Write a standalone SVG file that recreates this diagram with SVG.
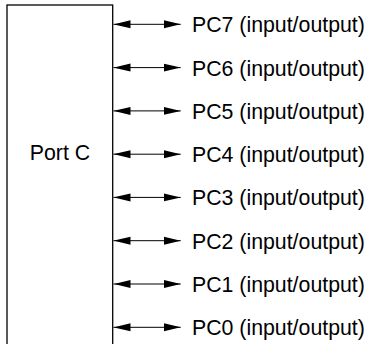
<svg xmlns="http://www.w3.org/2000/svg" width="369" height="344" viewBox="0 0 369 344">
<style>
.box{fill:#fff;stroke:#000;stroke-width:1.3}
.ln{stroke:#000;stroke-width:1}
.t{font-family:"Liberation Sans",Arial,sans-serif;font-size:21.3px;fill:#000}
</style>
<defs>
<marker id="ah" markerWidth="17" markerHeight="9" refX="17" refY="4.5" orient="auto-start-reverse" markerUnits="userSpaceOnUse">
<path d="M0,0.5 L17,4.5 L0,8.5 Z" fill="#000"/>
</marker>
</defs>
<g id="portC">
<rect class="box" x="7" y="5" width="105.7" height="350"/>
<text class="t" x="60" y="160" text-anchor="middle">Port C</text>
</g>
<g id="connectors">
<line class="ln" x1="113.5" y1="24.3" x2="180.7" y2="24.3" marker-start="url(#ah)" marker-end="url(#ah)"/>
<line class="ln" x1="113.5" y1="67.6" x2="180.7" y2="67.6" marker-start="url(#ah)" marker-end="url(#ah)"/>
<line class="ln" x1="113.5" y1="110.9" x2="180.7" y2="110.9" marker-start="url(#ah)" marker-end="url(#ah)"/>
<line class="ln" x1="113.5" y1="154.2" x2="180.7" y2="154.2" marker-start="url(#ah)" marker-end="url(#ah)"/>
<line class="ln" x1="113.5" y1="197.4" x2="180.7" y2="197.4" marker-start="url(#ah)" marker-end="url(#ah)"/>
<line class="ln" x1="113.5" y1="240.7" x2="180.7" y2="240.7" marker-start="url(#ah)" marker-end="url(#ah)"/>
<line class="ln" x1="113.5" y1="284" x2="180.7" y2="284" marker-start="url(#ah)" marker-end="url(#ah)"/>
<line class="ln" x1="113.5" y1="327.3" x2="180.7" y2="327.3" marker-start="url(#ah)" marker-end="url(#ah)"/>
</g>
<g id="labels">
<text class="t" x="192" y="32.3">PC7 (input/output)</text>
<text class="t" x="192" y="75.6">PC6 (input/output)</text>
<text class="t" x="192" y="118.9">PC5 (input/output)</text>
<text class="t" x="192" y="162.2">PC4 (input/output)</text>
<text class="t" x="192" y="205.4">PC3 (input/output)</text>
<text class="t" x="192" y="248.7">PC2 (input/output)</text>
<text class="t" x="192" y="292">PC1 (input/output)</text>
<text class="t" x="192" y="335.3">PC0 (input/output)</text>
</g>
</svg>
